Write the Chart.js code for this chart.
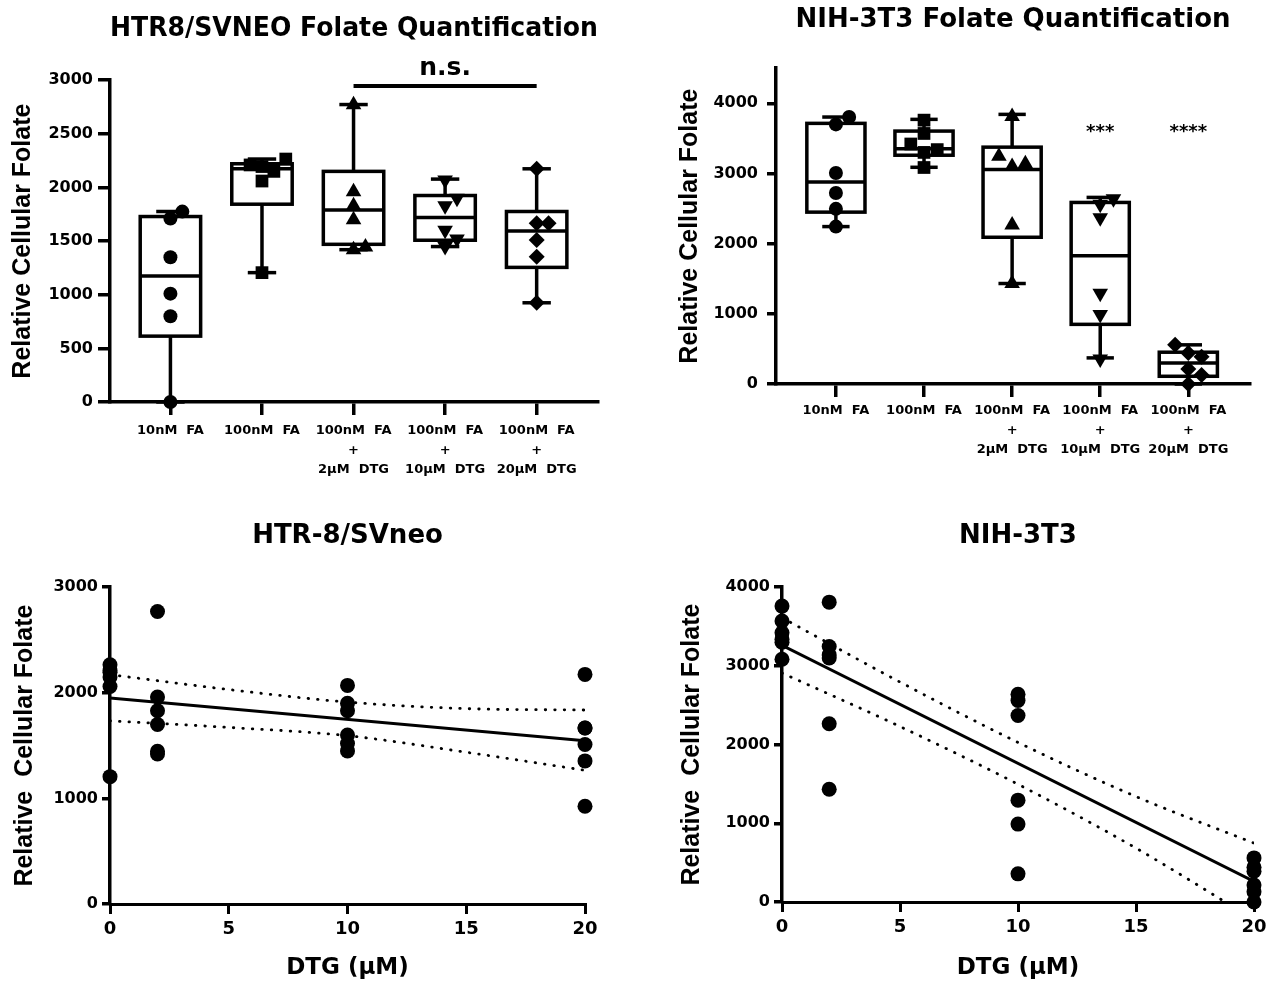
<!DOCTYPE html>
<html>
<head>
<meta charset="utf-8">
<script src="https://cdn.jsdelivr.net/npm/chart.js@4.4.1/dist/chart.umd.min.js"></script>
<style>
  body { margin: 0; background: #fff; width: 1274px; height: 986px; position: relative; overflow: hidden; }
  canvas { position: absolute; }
</style>
</head>
<body>
<canvas id="htrBox" width="640" height="490" style="left:0;top:0"></canvas>
<canvas id="nihBox" width="634" height="490" style="left:640px;top:0"></canvas>
<canvas id="htrDose" width="640" height="496" style="left:0;top:490px"></canvas>
<canvas id="nihDose" width="634" height="496" style="left:640px;top:490px"></canvas>
<script>
// conditions on the box plots
const groupLabels = [
  ['10nM  FA'],
  ['100nM  FA'],
  ['100nM  FA', '+', '2µM  DTG'],
  ['100nM  FA', '+', '10µM  DTG'],
  ['100nM  FA', '+', '20µM  DTG']
];

// HTR8/SVneo, relative cellular folate (6 replicates each)
const htr10FA = [0, 800, 1010, 1350, 1710, 1775];
const htr100FA = [1206, 2060, 2150, 2195, 2210, 2265];
const htrDTG2 = [1420, 1446, 1700, 1830, 1960, 2770];
const htrDTG10 = [1450, 1520, 1600, 1830, 1900, 2070];
const htrDTG20 = [925, 1355, 1511, 1667, 1667, 2174];
// box + whiskers as drawn
const htrMin = [0, 1206, 1420, 1449, 925];
const htrQ1 = [614, 1844, 1470, 1508, 1255];
const htrMedian = [1174, 2174, 1791, 1720, 1595];
const htrQ3 = [1729, 2221, 2150, 1925, 1776];
const htrMax = [1776, 2265, 2773, 2078, 2174];
const htrTicks = [0, 500, 1000, 1500, 2000, 2500, 3000];

// NIH-3T3, relative cellular folate
const nih10FA = [2243, 2496, 2721, 3007, 3699, 3804];
const nih100FA = [3085, 3300, 3340, 3420, 3570, 3760];
const nihDTG2 = [1433, 2265, 3100, 3140, 3246, 3810];
const nihDTG10 = [358, 990, 1294, 2369, 2560, 2640];
const nihDTG20 = [0, 130, 215, 390, 440, 560];
const nihMin = [2243, 3088, 1432, 372, 0];
const nihQ1 = [2449, 3260, 2091, 850, 110];
const nihMedian = [2878, 3351, 3055, 1828, 300];
const nihQ3 = [3714, 3604, 3375, 2587, 453];
const nihMax = [3804, 3771, 3842, 2659, 558];
const nihTicks = [0, 1000, 2000, 3000, 4000];

// significance marks
const htrBracket = [3, 5];
const htrBracketValue = 2945;
const nihStars = ['', '', '', '***', '****'];
const nihStarValue = 3640;

// DTG dose response (100nM FA), linear fit and 95% band
const dtgDoses = [0, 2, 10, 20];
const doseTicks = [0, 5, 10, 15, 20];
const fitDoses = [0, 20];
const htrFit = [1950, 1545];
const nihFit = [3262, 262];
const bandDoses = [0, 5, 10, 15, 20];
const htrUpper = [2172, 2031, 1912, 1850, 1837];
const htrLower = [1734, 1672, 1594, 1437, 1266];
const nihUpper = [3612, 2795, 2028, 1340, 748];
const nihLower = [2910, 2230, 1496, 684, -224];
const htrDoseTicks = [0, 1000, 2000, 3000];
const nihDoseTicks = [0, 1000, 2000, 3000, 4000];

const markerStyles = ['circle', 'rect', 'triangle', 'triangle', 'rectRot'];
const markerRot = [0, 0, 0, 180, 0];
const markerSize = [7, 9, 9, 9, 8];

const SANS = "'DejaVu Sans', sans-serif";
const ARIAL = "'Liberation Sans', Arial, sans-serif";

Chart.defaults.font.family = SANS;
Chart.defaults.font.weight = 'bold';
Chart.defaults.color = '#000';
Chart.defaults.animation = false;
Chart.defaults.responsive = false;
Chart.defaults.plugins.legend.display = false;
Chart.defaults.plugins.tooltip.enabled = false;

// spread close values sideways so markers don't sit on each other
function swarm(vals, center, overlap, step) {
  const placed = [];
  return vals.slice().sort((a, b) => a - b).map(v => {
    let off = 0;
    for (let k = 0; k < 12; k++) {
      off = (k % 2 ? 1 : -1) * Math.ceil(k / 2) * step;
      if (placed.every(p => Math.abs(p.v - v) >= overlap || Math.abs(p.o - off) >= step * 0.99)) break;
    }
    placed.push({ v: v, o: off });
    return { x: center + off, y: v };
  });
}

function boxPlugin(mins, q1s, meds, q3s, maxs) {
  return {
    id: 'boxes',
    beforeDatasetsDraw(chart) {
      const ctx = chart.ctx, x = chart.scales.x, y = chart.scales.y;
      ctx.save();
      ctx.strokeStyle = '#000';
      ctx.lineWidth = 3.5;
      const seg = (x1, y1, x2, y2) => { ctx.beginPath(); ctx.moveTo(x1, y1); ctx.lineTo(x2, y2); ctx.stroke(); };
      mins.forEach((m, i) => {
        const cx = x.getPixelForValue(i + 1);
        const hw = x.getPixelForValue(i + 1.33) - cx;
        const cw = hw * 0.47;
        const pMin = y.getPixelForValue(m), pQ1 = y.getPixelForValue(q1s[i]);
        const pMed = y.getPixelForValue(meds[i]), pQ3 = y.getPixelForValue(q3s[i]);
        const pMax = y.getPixelForValue(maxs[i]);
        seg(cx, pQ3, cx, pMax); seg(cx - cw, pMax, cx + cw, pMax);
        seg(cx, pQ1, cx, pMin); seg(cx - cw, pMin, cx + cw, pMin);
        ctx.fillStyle = '#fff';
        ctx.fillRect(cx - hw, pQ3, 2 * hw, pQ1 - pQ3);
        ctx.strokeRect(cx - hw, pQ3, 2 * hw, pQ1 - pQ3);
        seg(cx - hw, pMed, cx + hw, pMed);
      });
      ctx.restore();
    }
  };
}

function marksPlugin(draw) {
  return { id: 'marks', afterDatasetsDraw(chart) { const ctx = chart.ctx; ctx.save(); draw(ctx, chart.scales.x, chart.scales.y); ctx.restore(); } };
}

function yAxis(max, ticks, width, tickLen, tickPad, title, titlePad) {
  return {
    min: 0, max: max,
    afterFit: s => { s.width = width; },
    afterBuildTicks: s => { s.ticks = ticks.map(v => ({ value: v })); },
    ticks: { padding: tickPad, font: { size: 16 }, callback: v => String(v) },
    border: { color: '#000', width: 3.5 },
    grid: { drawOnChartArea: false, color: '#000', lineWidth: 3.5, tickLength: tickLen },
    title: { display: true, text: title, font: { family: ARIAL, size: 25, weight: 'bold' }, padding: { top: titlePad, bottom: 0 } }
  };
}

function boxPanel(id, p) {
  const datasets = p.groups.map((vals, i) => ({
    data: swarm(vals, i + 1, p.overlap, p.step),
    pointStyle: markerStyles[i], rotation: markerRot[i], pointRadius: markerSize[i],
    backgroundColor: '#000', borderColor: '#000', borderWidth: 0, clip: false
  }));
  new Chart(document.getElementById(id), {
    type: 'scatter',
    data: { datasets: datasets },
    options: {
      layout: { padding: { left: 0, right: p.padRight, top: 0, bottom: 0 } },
      plugins: {
        title: { display: true, text: p.title, fullSize: false, color: '#000', font: { size: 26, weight: 'bold' }, padding: { top: p.titleTop, bottom: p.titleBottom } }
      },
      scales: {
        x: {
          type: 'linear', min: p.xMin, max: p.xMax,
          afterFit: s => { s.height = p.xHeight; },
          afterBuildTicks: s => { s.ticks = groupLabels.map((g, i) => ({ value: i + 1 })); },
          ticks: { autoSkip: false, maxRotation: 0, padding: p.xTickPad, font: { size: 13, lineHeight: 1.5 }, callback: v => groupLabels[v - 1] },
          border: { color: '#000', width: 3.5 },
          grid: { drawOnChartArea: false, color: '#000', lineWidth: 3.5, tickLength: 13 }
        },
        y: yAxis(p.yMax, p.yTicks, p.yWidth, p.yTickLen, p.yTickPad, 'Relative Cellular Folate', p.yTitlePad)
      }
    },
    plugins: [boxPlugin(p.min, p.q1, p.med, p.q3, p.max), marksPlugin(p.marks)]
  });
}

function dosePanel(id, p) {
  const pts = [];
  p.groups.forEach((vals, i) => vals.forEach(v => pts.push({ x: dtgDoses[i], y: v })));
  const dotted = { showLine: true, pointRadius: 0, borderColor: '#000', borderWidth: 2.8, borderDash: [0.5, 9], borderCapStyle: 'round', cubicInterpolationMode: 'monotone', fill: false };
  new Chart(document.getElementById(id), {
    type: 'scatter',
    data: {
      datasets: [
        { data: pts, pointRadius: 7.5, backgroundColor: '#000', borderWidth: 0, clip: false },
        { data: fitDoses.map((d, i) => ({ x: d, y: p.fit[i] })), showLine: true, pointRadius: 0, borderColor: '#000', borderWidth: 3 },
        Object.assign({ data: bandDoses.map((d, i) => ({ x: d, y: p.upper[i] })) }, dotted),
        Object.assign({ data: bandDoses.map((d, i) => ({ x: d, y: p.lower[i] })) }, dotted)
      ]
    },
    options: {
      layout: { padding: { left: 0, right: p.padRight, top: 0, bottom: 0 } },
      plugins: {
        title: { display: true, text: p.title, fullSize: false, color: '#000', font: { size: 26, weight: 'bold' }, padding: { top: 31, bottom: 35 } }
      },
      scales: {
        x: {
          type: 'linear', min: 0, max: 20,
          afterFit: s => { s.height = p.xHeight; },
          afterBuildTicks: s => { s.ticks = doseTicks.map(v => ({ value: v })); },
          ticks: { padding: 5, font: { size: 18 } },
          border: { color: '#000', width: 3 },
          grid: { drawOnChartArea: false, color: '#000', lineWidth: 3, tickLength: 10 },
          title: { display: true, text: 'DTG (µM)', font: { size: 23, weight: 'bold' }, padding: { top: 0, bottom: 4 } }
        },
        y: yAxis(p.yMax, p.yTicks, p.yWidth, 8, 4, 'Relative  Cellular Folate', p.yTitlePad)
      }
    }
  });
}

boxPanel('htrBox', {
  title: 'HTR8/SVNEO Folate Quantification', titleTop: 14, titleBottom: 35,
  groups: [htr10FA, htr100FA, htrDTG2, htrDTG10, htrDTG20],
  min: htrMin, q1: htrQ1, med: htrMedian, q3: htrQ3, max: htrMax,
  overlap: 120, step: 0.13, xMin: 0.34, xMax: 5.67, xHeight: 88, xTickPad: 6, padRight: 42,
  yMax: 3000, yTicks: htrTicks, yWidth: 110, yTickLen: 12, yTickPad: 5, yTitlePad: 8,
  marks: (ctx, x, y) => {
    const by = y.getPixelForValue(htrBracketValue);
    ctx.strokeStyle = '#000'; ctx.lineWidth = 4;
    ctx.beginPath(); ctx.moveTo(x.getPixelForValue(htrBracket[0]), by); ctx.lineTo(x.getPixelForValue(htrBracket[1]), by); ctx.stroke();
    ctx.fillStyle = '#000'; ctx.font = 'bold 25px ' + SANS; ctx.textAlign = 'center'; ctx.textBaseline = 'middle';
    ctx.fillText('n.s.', x.getPixelForValue((htrBracket[0] + htrBracket[1]) / 2), by - 18);
  }
});

boxPanel('nihBox', {
  title: 'NIH-3T3 Folate Quantification', titleTop: 5, titleBottom: 32,
  groups: [nih10FA, nih100FA, nihDTG2, nihDTG10, nihDTG20],
  min: nihMin, q1: nihQ1, med: nihMedian, q3: nihQ3, max: nihMax,
  overlap: 185, step: 0.15, xMin: 0.32, xMax: 5.7, xHeight: 106, xTickPad: 4, padRight: 24,
  yMax: 4500, yTicks: nihTicks, yWidth: 136, yTickLen: 9, yTickPad: 9, yTitlePad: 35,
  marks: (ctx, x, y) => {
    ctx.fillStyle = '#000'; ctx.font = 'bold 18px ' + SANS; ctx.textAlign = 'center'; ctx.textBaseline = 'middle';
    nihStars.forEach((s, i) => { if (s) ctx.fillText(s, x.getPixelForValue(i + 1), y.getPixelForValue(nihStarValue) + 4); });
  }
});

dosePanel('htrDose', {
  title: 'HTR-8/SVneo', groups: [htr100FA, htrDTG2, htrDTG10, htrDTG20],
  fit: htrFit, upper: htrUpper, lower: htrLower,
  yMax: 3000, yTicks: htrDoseTicks, yWidth: 110, yTitlePad: 10, xHeight: 82, padRight: 55
});

dosePanel('nihDose', {
  title: 'NIH-3T3', groups: [nih100FA, nihDTG2, nihDTG10, nihDTG20],
  fit: nihFit, upper: nihUpper, lower: nihLower,
  yMax: 4000, yTicks: nihDoseTicks, yWidth: 142, yTitlePad: 37, xHeight: 84, padRight: 20
});
</script>
</body>
</html>
